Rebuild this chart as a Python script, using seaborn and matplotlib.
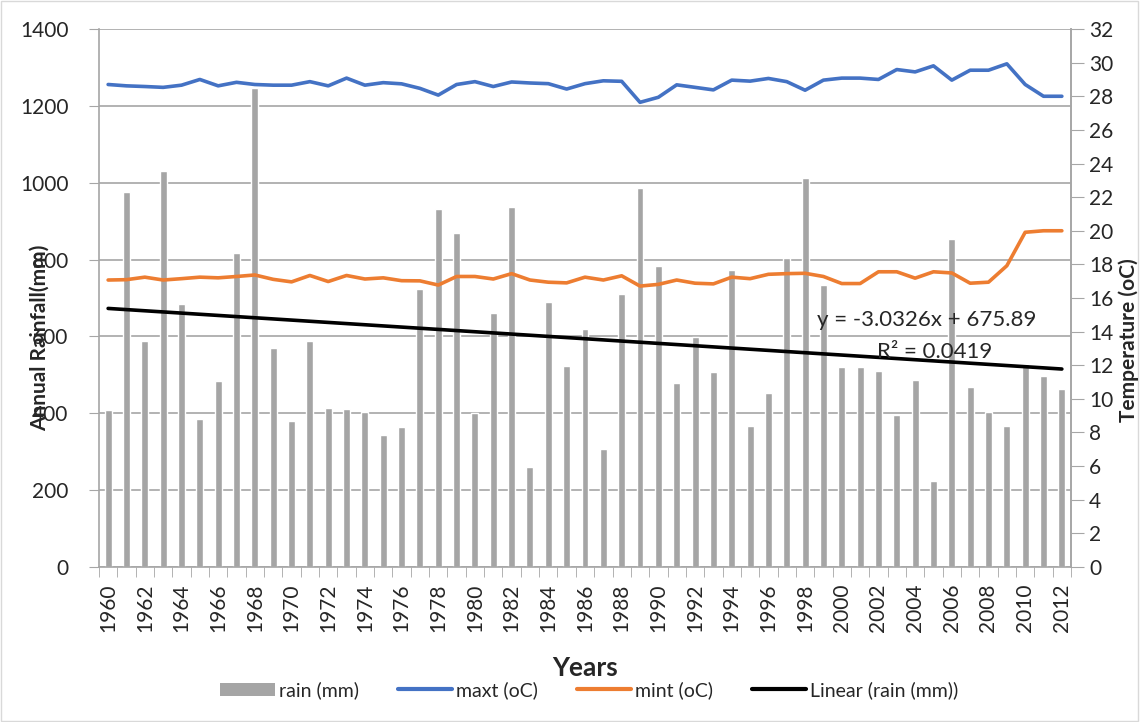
import numpy as np
import matplotlib
matplotlib.use("Agg")
import matplotlib.pyplot as plt
import seaborn as sns
from matplotlib.lines import Line2D
from matplotlib.patches import Patch, Rectangle

years = list(range(1960, 2013))

rain = [409, 976, 589, 1030, 685, 385, 484, 818, 1247, 570,
        379, 589, 413, 410, 403, 343, 364, 723, 931, 868,
        400, 661, 937, 260, 689, 523, 620, 308, 711, 986,
        784, 478, 598, 507, 774, 368, 453, 805, 1012, 735,
        521, 521, 509, 395, 486, 224, 853, 468, 404, 368,
        527, 496, 463]

maxt = [28.70, 28.62, 28.58, 28.53, 28.66, 29.00, 28.62, 28.83, 28.70, 28.66,
        28.66, 28.87, 28.62, 29.08, 28.66, 28.81, 28.74, 28.47, 28.07, 28.70,
        28.87, 28.58, 28.85, 28.79, 28.75, 28.43, 28.75, 28.92, 28.89, 27.64,
        27.94, 28.68, 28.53, 28.38, 28.96, 28.90, 29.06, 28.87, 28.36, 28.96,
        29.08, 29.08, 29.00, 29.59, 29.45, 29.81, 28.96, 29.55, 29.55, 29.93,
        28.70, 28.00, 28.00]

mint = [17.07, 17.09, 17.24, 17.07, 17.15, 17.24, 17.20, 17.28, 17.37, 17.11,
        16.96, 17.34, 16.98, 17.34, 17.13, 17.20, 17.03, 17.02, 16.77, 17.28,
        17.28, 17.13, 17.45, 17.07, 16.94, 16.90, 17.24, 17.07, 17.32, 16.71,
        16.81, 17.07, 16.88, 16.84, 17.24, 17.15, 17.41, 17.45, 17.47, 17.28,
        16.86, 16.86, 17.56, 17.56, 17.18, 17.56, 17.49, 16.88, 16.94, 17.92,
        19.91, 20.00, 20.00]

# trendline from the chart label: y = -3.0326x + 675.89
slope = -3.0326
intercept = 675.89

grey = "#a5a5a5"
blue = "#4472c4"
orange = "#ed7d31"
gridc = "#a6a6a6"

sns.set_style("white")
plt.rcParams["font.family"] = ["Lato", "DejaVu Sans"]

fig = plt.figure(figsize=(11.4, 7.22), dpi=100)
ax = fig.add_axes([0.0868, 0.2147, 0.8527, 0.7451])

idx = np.arange(len(years))
sns.barplot(x=idx, y=rain, ax=ax, color=grey, width=0.38, saturation=1,
            native_scale=True, zorder=2)
trend = slope * (idx + 1) + intercept
sns.lineplot(x=idx, y=trend, ax=ax, color="black", linewidth=2.6, zorder=3)

ax.set_xlim(-0.5, len(years) - 0.5)
ax.set_ylim(0, 1400)
ax.set_yticks(range(0, 1401, 200))
ax.yaxis.grid(True, color=gridc, linewidth=1.2, zorder=0)
ax.set_axisbelow(True)

ax.set_xticks(idx[::2])
ax.set_xticklabels([str(y) for y in years[::2]], rotation=90)
ax.set_xticks(np.arange(-0.5, len(years), 1), minor=True)
ax.tick_params(axis="x", which="major", length=0, labelsize=15, pad=12)
ax.tick_params(axis="x", which="minor", length=7, color=gridc, direction="out")
ax.tick_params(axis="y", length=7, color=gridc, labelsize=15, direction="out", pad=15)
ax.tick_params(bottom=True, left=True, which="both")

ax.spines["top"].set_visible(False)
for s in ["left", "right", "bottom"]:
    ax.spines[s].set_color(gridc)
    ax.spines[s].set_linewidth(1.2)

ax.set_xlabel("Years", fontsize=19, fontweight="bold", labelpad=17)
ax.set_ylabel("")

ax2 = ax.twinx()
sns.lineplot(x=idx, y=maxt, ax=ax2, color=blue, linewidth=2.6)
sns.lineplot(x=idx, y=mint, ax=ax2, color=orange, linewidth=2.6)
ax2.set_ylim(0, 32)
ax2.set_yticks(range(0, 33, 2))
ax2.tick_params(axis="y", length=9, color=gridc, labelsize=15, direction="out",
                right=True, pad=4)
for s in ["top", "left", "bottom"]:
    ax2.spines[s].set_visible(False)
ax2.spines["right"].set_color(gridc)
ax2.spines["right"].set_linewidth(1.2)
ax2.set_ylabel("")
ax2.set_xlim(-0.5, len(years) - 0.5)

# axis titles placed like the original, overlapping the tick labels
fig.text(40 / 1140, 1 - 338 / 722, "Annual Rainfall(mm)", rotation=90,
         fontsize=15, fontweight="bold", ha="center", va="center")
fig.text(1129 / 1140, 1 - 340 / 722, "Temperature (oC)", rotation=90,
         fontsize=15, fontweight="bold", ha="center", va="center")

ax.text(0.852, 0.459, "y = -3.0326x + 675.89", transform=ax.transAxes,
        fontsize=16, ha="center", va="center", zorder=5)
ax.text(0.860, 0.400, "R² = 0.0419", transform=ax.transAxes,
        fontsize=16, ha="center", va="center", zorder=5)

handles = [
    Patch(facecolor=grey, edgecolor="none"),
    Line2D([0], [0], color=blue, linewidth=3),
    Line2D([0], [0], color=orange, linewidth=3),
    Line2D([0], [0], color="black", linewidth=3),
]
labels = ["rain (mm)", "maxt (oC)", "mint (oC)", "Linear (rain (mm))"]
fig.legend(handles, labels, loc="center", bbox_to_anchor=(0.517, 0.044), ncol=4,
           frameon=False, fontsize=14, handlelength=2.8, handletextpad=0.2,
           columnspacing=2.0)

fig.add_artist(Rectangle((0.001, 0.002), 0.997, 0.996, transform=fig.transFigure,
                         fill=False, edgecolor="#d9d9d9", linewidth=1))

fig.savefig("out.png", dpi=100)
